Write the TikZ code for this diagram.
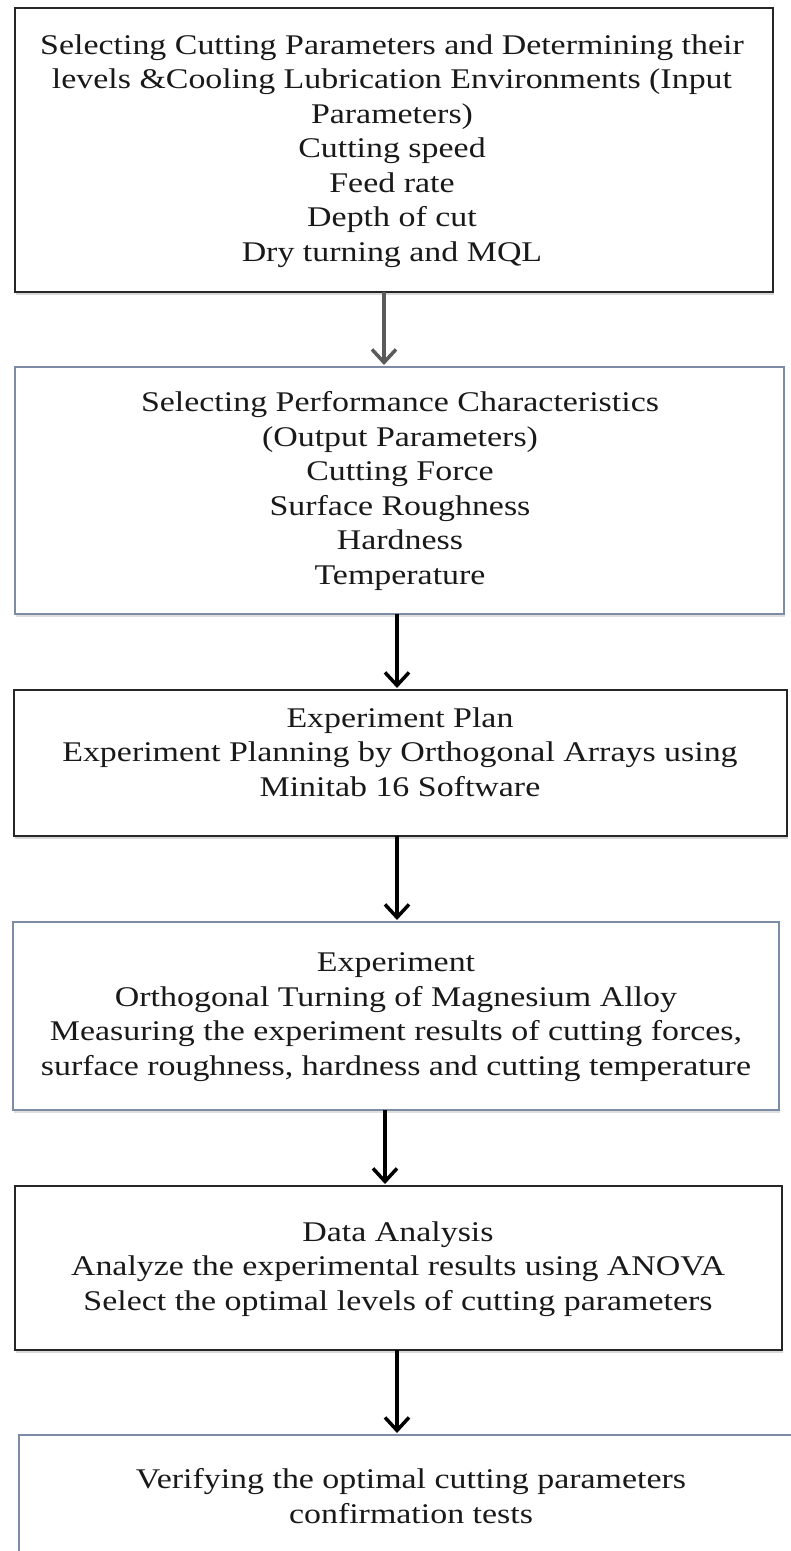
\documentclass[tikz,border=0pt]{standalone}
\usepackage{fontspec}
\newfontfamily\boxfont{Liberation Serif}[FakeStretch=1.19]
\usetikzlibrary{arrows.meta,shadows}
\definecolor{bluegray}{HTML}{7D8CA6}
\definecolor{arrgray}{HTML}{5A5A5A}
\begin{document}
\begin{tikzpicture}[x=1pt,y=-1pt,
  boxk/.style={draw=black!85, line width=2pt, inner sep=0pt, outer sep=0pt, fill=white,
    drop shadow={shadow xshift=1pt, shadow yshift=-3pt, opacity=0.3}},
  boxb/.style={draw=bluegray, line width=2pt, inner sep=0pt, outer sep=0pt, fill=white,
    drop shadow={shadow xshift=1pt, shadow yshift=-3pt, opacity=0.25}},
  txt/.style={align=center, font=\boxfont\fontsize{28.5}{34.5}\selectfont, text=black!90, inner sep=0pt},
  arr/.style={line width=3.5pt, -{Straight Barb[length=13pt,width=24pt]}, shorten >=2pt},
]
\useasboundingbox (0,0) rectangle (791,1551);
\fill[white] (0,0) rectangle (791,1551);

% boxes
\node[boxk, minimum width=758pt, minimum height=284pt] (b1) at (394,150) {};
\node[boxb, minimum width=769pt, minimum height=247pt] (b2) at (399.5,490.5) {};
\node[boxk, minimum width=773pt, minimum height=146pt] (b3) at (400.5,763) {};
\node[boxb, minimum width=766pt, minimum height=188pt] (b4) at (396,1016) {};
\node[boxk, minimum width=767pt, minimum height=164pt] (b5) at (398.5,1268) {};
\node[boxb, minimum width=784pt, minimum height=170pt] (b6) at (411,1520) {};

% texts
\node[txt] (t1) at (392,151) {Selecting Cutting Parameters and Determining their\\levels \&Cooling Lubrication Environments (Input\\Parameters)\\Cutting speed\\Feed rate\\Depth of cut\\Dry turning and MQL};
\node[txt] (t2) at (400,491) {Selecting Performance Characteristics\\(Output Parameters)\\Cutting Force\\Surface Roughness\\Hardness\\Temperature};
\node[txt] (t3) at (400,752) {Experiment Plan\\Experiment Planning by Orthogonal Arrays using\\Minitab 16 Software};
\node[txt] (t4) at (396,1017) {Experiment\\Orthogonal Turning of Magnesium Alloy\\Measuring the experiment results of cutting forces,\\surface roughness, hardness and cutting temperature};
\node[txt] (t5) at (398,1269) {Data Analysis\\Analyze the experimental results using ANOVA\\Select the optimal levels of cutting parameters};
\node[txt] (t6) at (411,1496) {Verifying the optimal cutting parameters\\confirmation tests};

% arrow columns
\coordinate (c1) at (384,0);
\coordinate (c2) at (397,0);
\coordinate (c3) at (397,0);
\coordinate (c4) at (385,0);
\coordinate (c5) at (397,0);

\draw[arr, draw=arrgray] (b1.south -| c1) -- (b2.north -| c1);
\draw[arr, draw=black] (b2.south -| c2) -- (b3.north -| c2);
\draw[arr, draw=black] (b3.south -| c3) -- (b4.north -| c3);
\draw[arr, draw=black] (b4.south -| c4) -- (b5.north -| c4);
\draw[arr, draw=black] (b5.south -| c5) -- (b6.north -| c5);
\end{tikzpicture}
\end{document}
